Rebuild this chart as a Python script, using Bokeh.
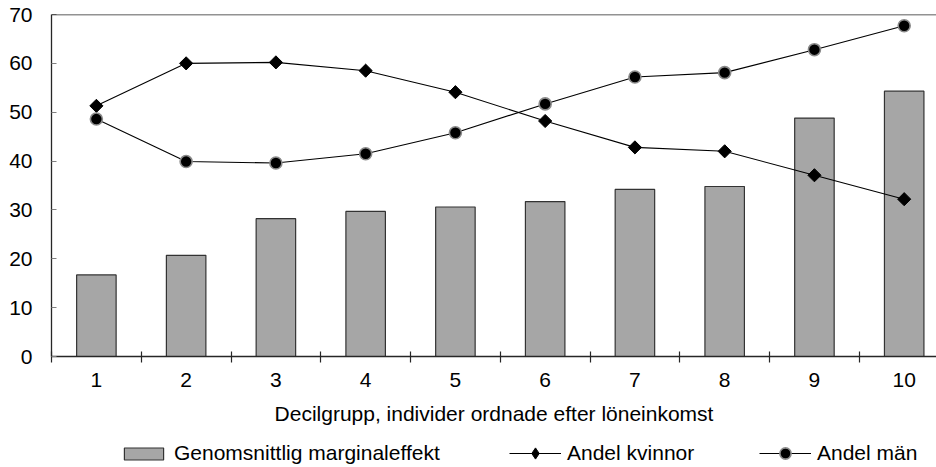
import math
from bokeh.plotting import figure
from bokeh.layouts import column
from bokeh.models import (Range1d, FixedTicker, Legend, LegendItem, Span, ColumnDataSource)
from bokeh.embed import file_html
from bokeh.resources import INLINE

# ---- data ----
deciles = [1, 2, 3, 4, 5, 6, 7, 8, 9, 10]
marginal = [16.7, 20.7, 28.2, 29.7, 30.6, 31.7, 34.2, 34.8, 48.8, 54.3]
kvinnor = [51.3, 60.0, 60.2, 58.5, 54.1, 48.2, 42.8, 42.0, 37.1, 32.2]
man = [48.6, 39.9, 39.6, 41.5, 45.8, 51.7, 57.2, 58.1, 62.8, 67.7]
y_ticks = [0, 10, 20, 30, 40, 50, 60, 70]
x_label = "Decilgrupp, individer ordnade efter löneinkomst"
series_names = ["Genomsnittlig marginaleffekt", "Andel kvinnor", "Andel män"]

FONT = "Liberation Sans"
FS = "21px"
AX = "#262626"
BAR_FILL = "#a6a6a6"
BAR_LINE = "#333333"
MAN_EDGE = "#8a8a8a"
NAN = float("nan")

src = ColumnDataSource(dict(x=deciles, bar=marginal, kv=kvinnor, man=man))

p = figure(width=936, height=430, output_backend="svg", toolbar_location=None,
           x_range=Range1d(0.5, 10.36), y_range=Range1d(y_ticks[0], y_ticks[-1]),
           min_border_left=51, min_border_right=0, min_border_top=14, min_border_bottom=74)
p.outline_line_color = None
p.xgrid.grid_line_color = None
p.ygrid.grid_line_color = None

p.vbar(x="x", top="bar", width=0.44, source=src,
       fill_color=BAR_FILL, line_color=BAR_LINE, line_width=1.2)
p.line("x", "kv", source=src, line_color="black", line_width=1.1)
p.scatter("x", "kv", source=src, marker="square", angle=math.pi / 4, size=9.3,
          fill_color="black", line_color="black")
p.line("x", "man", source=src, line_color="black", line_width=1.1)
p.scatter("x", "man", source=src, marker="circle", size=12,
          fill_color="black", line_color=MAN_EDGE, line_width=1.6)

# top frame line
p.add_layout(Span(location=y_ticks[-1], dimension="width", line_color=AX, line_width=1.3))

# x axis
xa = p.xaxis[0]
xa.ticker = FixedTicker(ticks=deciles, minor_ticks=[d - 0.5 for d in deciles])
xa.major_tick_in = 0
xa.major_tick_out = 0
xa.minor_tick_in = 5
xa.minor_tick_out = 6
xa.minor_tick_line_color = AX
xa.minor_tick_line_width = 1.2
xa.axis_line_color = AX
xa.axis_line_width = 1.3
xa.major_label_text_font = FONT
xa.major_label_text_font_size = FS
xa.major_label_text_color = "black"
xa.major_label_standoff = 10
xa.axis_label = x_label
xa.axis_label_text_font = FONT
xa.axis_label_text_font_size = FS
xa.axis_label_text_font_style = "normal"
xa.axis_label_text_color = "black"
xa.axis_label_standoff = 12

# y axis
ya = p.yaxis[0]
ya.ticker = FixedTicker(ticks=y_ticks)
ya.major_tick_in = 5
ya.major_tick_out = 0
ya.major_tick_line_color = "#808080"
ya.minor_tick_line_color = None
ya.axis_line_color = AX
ya.axis_line_width = 1.3
ya.major_label_text_font = FONT
ya.major_label_text_font_size = FS
ya.major_label_text_color = "black"
ya.major_label_standoff = 19

# ---- legend strip (legend-only renderers, NaN data so nothing is plotted) ----
lf = figure(width=936, height=37, output_backend="svg", toolbar_location=None,
            x_range=Range1d(0, 1), y_range=Range1d(0, 1),
            min_border=0, x_axis_type=None, y_axis_type=None)
lf.outline_line_color = None
lf.xgrid.grid_line_color = None
lf.ygrid.grid_line_color = None
leg_bar = lf.vbar(x=[NAN], top=[NAN], width=1, fill_color=BAR_FILL, line_color=BAR_LINE, line_width=1.2)
leg_kv_line = lf.line(x=[NAN], y=[NAN], line_color="black", line_width=1.1)
leg_kv_pt = lf.scatter(x=[NAN], y=[NAN], marker="diamond", fill_color="black", line_color="black")
leg_man_line = lf.line(x=[NAN], y=[NAN], line_color="black", line_width=1.1)
leg_man_pt = lf.scatter(x=[NAN], y=[NAN], marker="circle", fill_color="black",
                        line_color=MAN_EDGE, line_width=1.6)


def mk_legend(items, loc, gw, gh):
    lg = Legend(items=items, location=loc, orientation="horizontal",
                glyph_width=gw, glyph_height=gh, label_standoff=6,
                padding=0, margin=0, spacing=0,
                border_line_color=None, background_fill_alpha=0,
                label_text_font=FONT, label_text_font_size=FS, label_text_color="black",
                label_height=gh)
    lf.add_layout(lg, "center")
    return lg


# legend positions are relative to the (aligned) frame left edge
mk_legend([LegendItem(label=series_names[0], renderers=[leg_bar])], (68, 2), 49, 15)
mk_legend([LegendItem(label=series_names[1], renderers=[leg_kv_line, leg_kv_pt])], (458, 0), 52, 28)
mk_legend([LegendItem(label=series_names[2], renderers=[leg_man_line, leg_man_pt])], (708, 0), 52, 28)

open("out.html", "w").write(file_html(column(p, lf), INLINE))
